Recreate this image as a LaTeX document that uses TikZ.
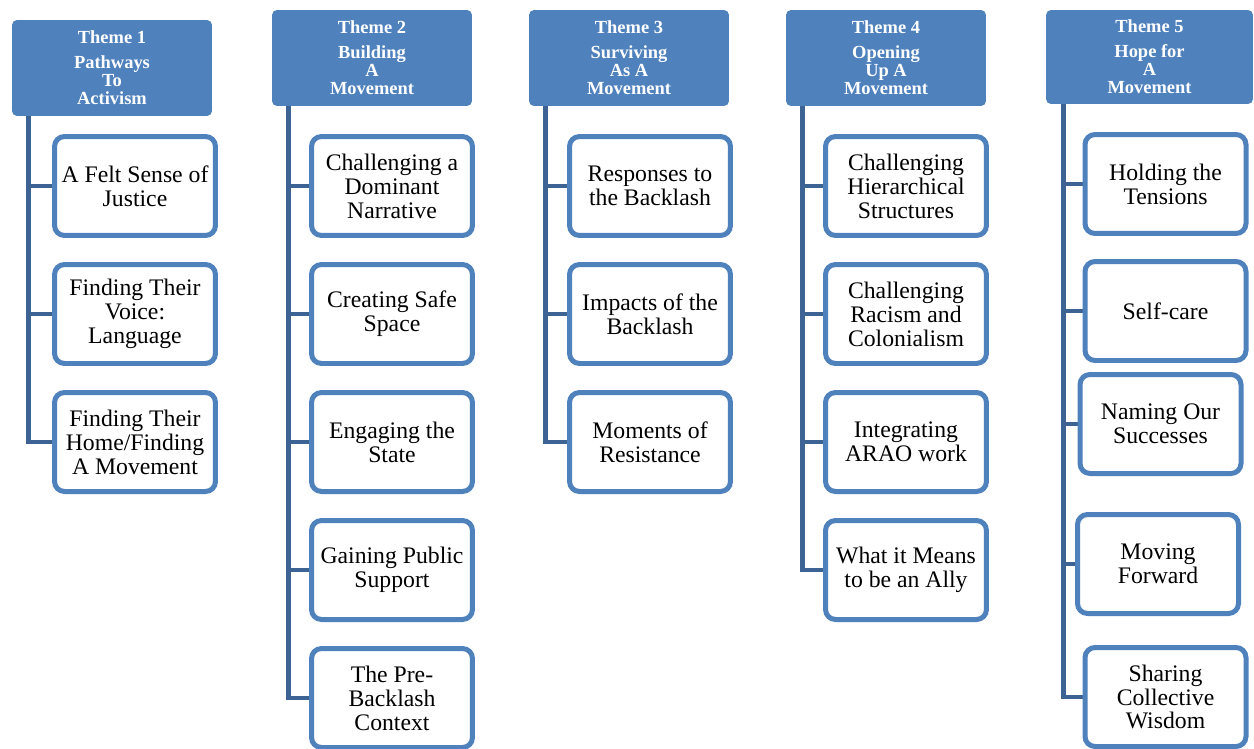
\documentclass[tikz,border=0pt]{standalone}
\usepackage{fontspec}
\setmainfont{Liberation Serif}
\usepackage{tikz}
\usetikzlibrary{positioning,backgrounds}
\definecolor{themeblue}{RGB}{79,129,189}
\definecolor{spineblue}{RGB}{61,99,148}

\begin{document}
\begin{tikzpicture}[
        x=0.02cm, y=-0.02cm,
        theme/.style={rectangle, fill=themeblue, rounded corners=0.1cm, minimum width=4cm, minimum height=1.92cm, inner sep=0pt, align=center, text=white, font=\bfseries\fontsize{10.5}{10.2}\selectfont},
        sub/.style={rectangle, draw=themeblue, line width=0.1cm, fill=white, rounded corners=0.2cm, minimum width=3.22cm, minimum height=1.98cm, inner sep=0pt, align=center, font=\fontsize{13.5}{13.6}\selectfont},
        spine/.style={draw=spineblue, line width=0.09cm}
    ]
    \useasboundingbox (0,0) rectangle (1254,748);

    % theme headers
    \node[theme] (h1) at (112,68) {Theme 1\\[4pt]Pathways\\To\\Activism};
    \node[theme] (h2) at (372,58) {Theme 2\\[4pt]Building\\A\\Movement};
    \node[theme] (h3) at (629,58) {Theme 3\\[4pt]Surviving\\As A\\Movement};
    \node[theme] (h4) at (886,58) {Theme 4\\[4pt]Opening\\Up A\\Movement};
    \node[theme, minimum width=4.14cm, minimum height=1.88cm] (h5) at (1149.5,57) {Theme 5\\[4pt]Hope for\\A\\Movement};

    % sub-themes
    \node[sub] (c11) at (135,186) {A Felt Sense of\\Justice};
    \node[sub] (c12) at (135,314) {Finding Their\\Voice:\\Language};
    \node[sub] (c13) at (135,442) {Finding Their\\Home/Finding\\A Movement};

    \node[sub] (c21) at (392,186) {Challenging a\\Dominant\\Narrative};
    \node[sub] (c22) at (392,314) {Creating Safe\\Space};
    \node[sub] (c23) at (392,442) {Engaging the\\State};
    \node[sub] (c24) at (392,570) {Gaining Public\\Support};
    \node[sub] (c25) at (392,698) {The Pre-\\Backlash\\Context};

    \node[sub] (c31) at (650,186) {Responses to\\the Backlash};
    \node[sub] (c32) at (650,314) {Impacts of the\\Backlash};
    \node[sub] (c33) at (650,442) {Moments of\\Resistance};

    \node[sub] (c41) at (906,186) {Challenging\\Hierarchical\\Structures};
    \node[sub] (c42) at (906,314) {Challenging\\Racism and\\Colonialism};
    \node[sub] (c43) at (906,442) {Integrating\\ARAO work};
    \node[sub] (c44) at (906,570) {What it Means\\to be an Ally};

    \node[sub] (c51) at (1165.5,184) {Holding the\\Tensions};
    \node[sub] (c52) at (1165.5,311) {Self-care};
    \node[sub] (c53) at (1160.5,424) {Naming Our\\Successes};
    \node[sub] (c54) at (1158,564) {Moving\\Forward};
    \node[sub] (c55) at (1165.5,697) {Sharing\\Collective\\Wisdom};

    % spines and branches
    \begin{scope}[on background layer]
        \coordinate (s1) at ([xshift=0.34cm]h1.south west);
        \coordinate (s2) at ([xshift=0.34cm]h2.south west);
        \coordinate (s3) at ([xshift=0.34cm]h3.south west);
        \coordinate (s4) at ([xshift=0.34cm]h4.south west);
        \coordinate (s5) at ([xshift=0.36cm]h5.south west);
        \draw[spine] (s1) |- (c13.west);
        \draw[spine] (s2) |- (c25.west);
        \draw[spine] (s3) |- (c33.west);
        \draw[spine] (s4) |- (c44.west);
        \draw[spine] (s5) |- (c55.west);
        \foreach \c in {c11,c12} \draw[spine] (\c.west) -- (\c.west -| s1);
        \foreach \c in {c21,c22,c23,c24} \draw[spine] (\c.west) -- (\c.west -| s2);
        \foreach \c in {c31,c32} \draw[spine] (\c.west) -- (\c.west -| s3);
        \foreach \c in {c41,c42,c43} \draw[spine] (\c.west) -- (\c.west -| s4);
        \foreach \c in {c51,c52,c53,c54} \draw[spine] (\c.west) -- (\c.west -| s5);
    \end{scope}
\end{tikzpicture}
\end{document}
